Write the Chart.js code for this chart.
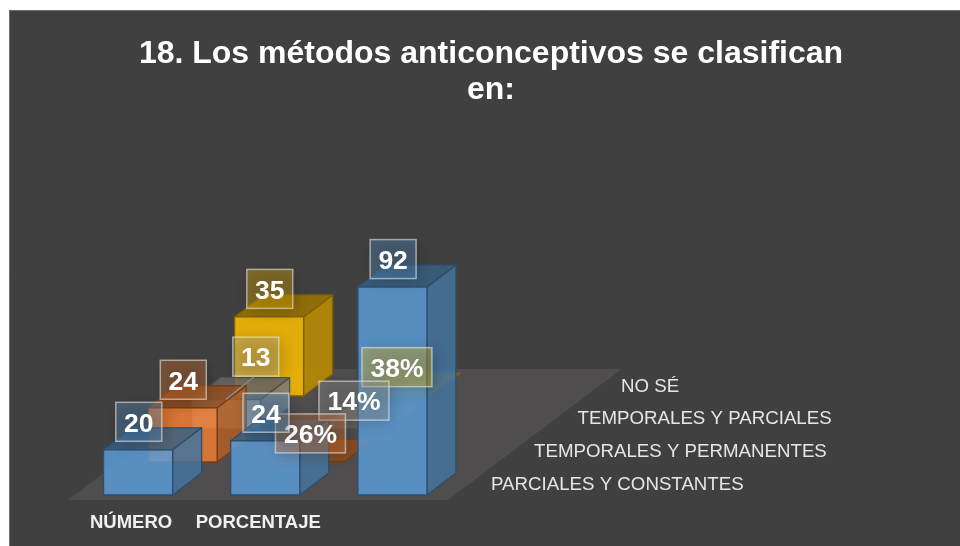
<!DOCTYPE html>
<html><head><meta charset="utf-8">
<style>html,body{margin:0;padding:0;background:#fff}canvas{display:block}</style>
<script src="https://cdn.jsdelivr.net/npm/chart.js@4"></script>
</head><body>
<div style="width:960px;height:546px"><canvas id="c" width="960" height="546"></canvas></div>
<script>
const titleLines = ["18. Los métodos anticonceptivos se clasifican", "en:"];
const categories = ["NÚMERO", "PORCENTAJE", ""];
const seriesNames = ["PARCIALES Y CONSTANTES", "TEMPORALES Y PERMANENTES", "TEMPORALES Y PARCIALES", "NO SÉ"];
const parcialesConstantes = [20, 24, 92];
const temporalesPermanentes = [24, 0.26, null];
const temporalesParciales = [13, 0.14, null];
const noSe = [35, 0.38, null];
const seriesValues = [parcialesConstantes, temporalesPermanentes, temporalesParciales, noSe];
const seriesColors = ["#5B9BD5", "#ED7D31", "#A5A5A5", "#FFC000"];

const rowShift = [[0, 0], [44.5, -33], [88, -66], [131, -99]];
const depth = [29, -22];
const nameSpots = [[491, 484.5], [534, 451.5], [577.6, 418.5], [621, 386.5]];
const movedLabel = {ds: 2, i: 0, dx: 29, dy: -15};

function rgb(hex, k, a) {
  const n = parseInt(hex.slice(1), 16);
  return `rgba(${Math.round((n >> 16) * k)},${Math.round(((n >> 8) & 255) * k)},${Math.round((n & 255) * k)},${a})`;
}
function poly(ctx, pts, fill, edge) {
  ctx.beginPath();
  pts.forEach((p, i) => i ? ctx.lineTo(p[0], p[1]) : ctx.moveTo(p[0], p[1]));
  ctx.closePath();
  ctx.fillStyle = fill; ctx.fill();
  ctx.strokeStyle = edge; ctx.lineWidth = 1.3; ctx.lineJoin = 'round'; ctx.stroke();
}
const scene = {
  id: 'scene',
  beforeDraw(chart) {
    const ctx = chart.ctx, a = chart.chartArea;
    ctx.save();
    ctx.fillStyle = '#fff'; ctx.fillRect(0, 0, 960, 546);
    ctx.fillStyle = '#404040'; ctx.fillRect(9, 10, 951, 536);
    ctx.strokeStyle = '#6e6e6e'; ctx.lineWidth = 1;
    ctx.beginPath(); ctx.moveTo(9.5, 546); ctx.lineTo(9.5, 10.5); ctx.lineTo(960, 10.5); ctx.stroke();
    const by = a.bottom + 5;
    ctx.fillStyle = '#4f4d4d';
    ctx.beginPath(); ctx.moveTo(68, by); ctx.lineTo(448, by); ctx.lineTo(621.7, 369); ctx.lineTo(241.7, 369); ctx.closePath(); ctx.fill();
    ctx.restore();
  },
  beforeDatasetDraw(chart, args) {
    const ctx = chart.ctx, col = seriesColors[args.index], s = rowShift[args.index];
    ctx.save();
    args.meta.data.forEach((bar, i) => {
      const v = seriesValues[args.index][i];
      if (v === null) return;
      const p = bar.getProps(['x', 'y', 'base', 'width'], true);
      const l = p.x - p.width / 2 + s[0], r = p.x + p.width / 2 + s[0];
      const t = p.y + s[1], b = p.base + s[1];
      const [dx, dy] = depth, edge = rgb(col, 0.5, 1);
      poly(ctx, [[r, t], [r + dx, t + dy], [r + dx, b + dy], [r, b]], rgb(col, 0.75, 0.85), edge);
      poly(ctx, [[l, t], [l + dx, t + dy], [r + dx, t + dy], [r, t]], rgb(col, 0.62, 0.85), edge);
      poly(ctx, [[l, t], [r, t], [r, b], [l, b]], rgb(col, 1, 0.85), edge);
    });
    ctx.restore();
    return false;
  },
  afterDatasetsDraw(chart) {
    const ctx = chart.ctx;
    ctx.save();
    ctx.textBaseline = 'middle';
    ctx.font = '18.7px "Liberation Sans"'; ctx.fillStyle = '#e6e6e6'; ctx.textAlign = 'left';
    seriesNames.forEach((n, i) => ctx.fillText(n, nameSpots[i][0], nameSpots[i][1]));
    ctx.font = 'bold 26.5px "Liberation Sans"'; ctx.textAlign = 'center';
    [3, 2, 1, 0].forEach(ds => {
      chart.getDatasetMeta(ds).data.forEach((bar, i) => {
        const v = seriesValues[ds][i];
        if (v === null) return;
        const s = rowShift[ds];
        const p = bar.getProps(['x', 'y'], true);
        let cx = p.x + s[0] + 0.7, cy = p.y + s[1] - 28;
        const moved = movedLabel.ds === ds && movedLabel.i === i;
        if (moved) {
          ctx.strokeStyle = '#8c8c8c'; ctx.lineWidth = 1.5;
          ctx.beginPath(); ctx.moveTo(cx - 1, p.y + s[1]); ctx.lineTo(cx + movedLabel.dx - 1, cy + movedLabel.dy + 19.5); ctx.stroke();
          cx += movedLabel.dx; cy += movedLabel.dy;
        }
        const txt = v < 1 ? Math.round(v * 100) + '%' : String(v);
        const w = v < 1 ? 70 : 46, h = 39;
        ctx.save();
        ctx.shadowColor = 'rgba(0,0,0,0.6)'; ctx.shadowBlur = 14; ctx.shadowOffsetX = 3; ctx.shadowOffsetY = 3;
        ctx.fillStyle = rgb(seriesColors[ds], 1, 0.32);
        ctx.fillRect(cx - w / 2, cy - h / 2, w, h);
        ctx.restore();
        ctx.strokeStyle = 'rgba(230,230,230,0.6)'; ctx.lineWidth = 1.5;
        ctx.strokeRect(cx - w / 2, cy - h / 2, w, h);
        ctx.fillStyle = '#fff';
        ctx.fillText(txt, cx, cy + 2.5);
      });
    });
    ctx.restore();
  }
};
new Chart(document.getElementById('c'), {
  type: 'bar',
  data: {
    labels: categories,
    datasets: seriesNames.map((n, i) => ({
      label: n, data: seriesValues[i], backgroundColor: seriesColors[i],
      grouped: false, barPercentage: 0.543, categoryPercentage: 1
    }))
  },
  plugins: [scene],
  options: {
    responsive: false, animation: false,
    layout: {padding: {top: 10, left: 22, right: 0, bottom: 0}},
    plugins: {
      legend: {display: false},
      tooltip: {enabled: false},
      title: {
        display: true, text: titleLines, color: '#fff',
        font: {family: '"Liberation Sans"', size: 32, weight: 'bold', lineHeight: 1.125},
        padding: {top: 26, bottom: 161}
      }
    },
    scales: {
      x: {
        grid: {display: false}, border: {display: false},
        ticks: {color: '#f0f0f0', labelOffset: -7, padding: 9, maxRotation: 0, autoSkip: false,
                font: {family: '"Liberation Sans"', size: 18.5, weight: 'bold'}},
        afterFit(s) { s.height = 51; }
      },
      y: {
        min: 0, max: 100, grid: {display: false}, border: {display: false},
        ticks: {display: false},
        afterFit(s) { s.width = 52.5; }
      },
      y1: {
        position: 'right', min: 0, max: 100, grid: {display: false}, border: {display: false},
        ticks: {display: false},
        afterFit(s) { s.width = 504; }
      }
    }
  }
});
</script>
</body></html>
